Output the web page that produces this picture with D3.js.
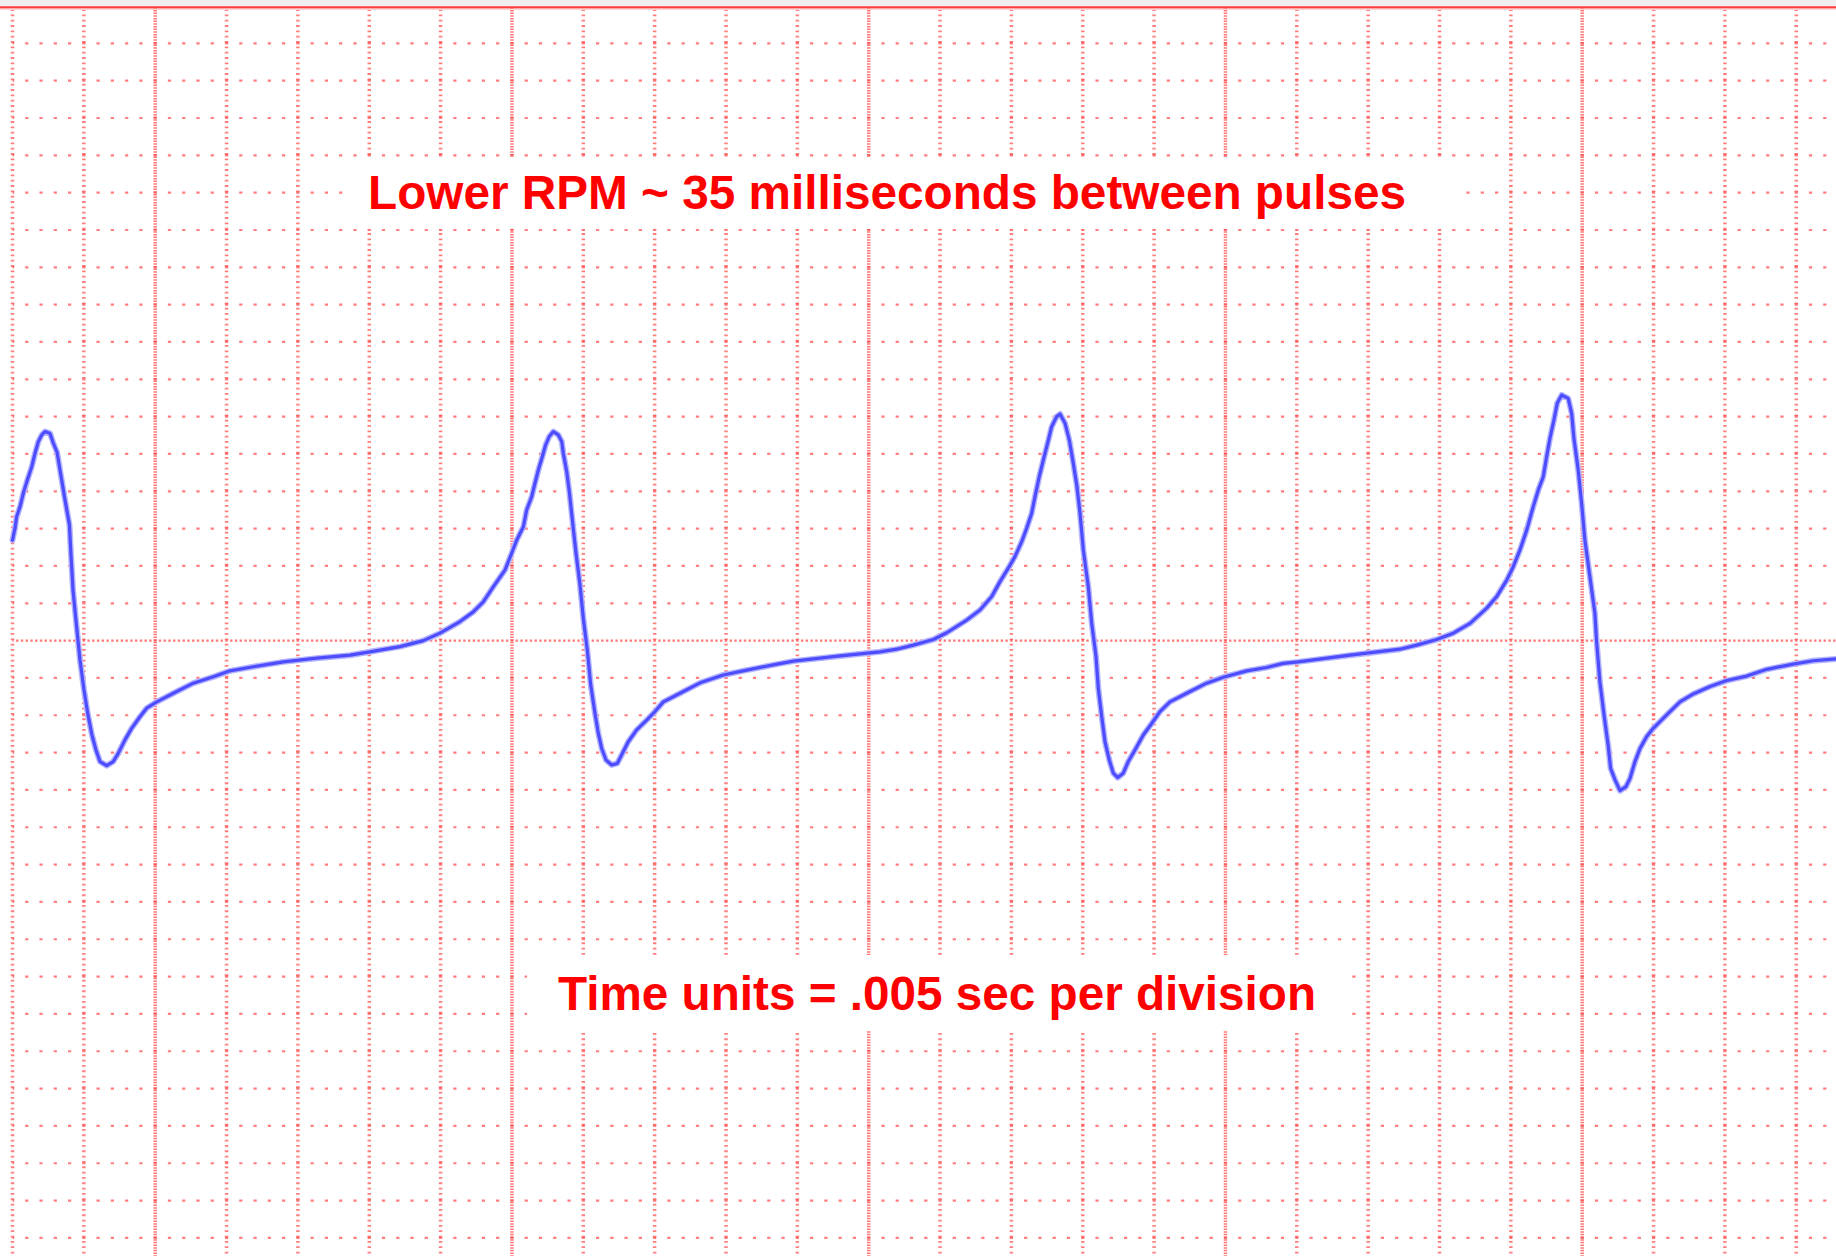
<!DOCTYPE html>
<html>
<head>
<meta charset="utf-8">
<script src="https://cdn.jsdelivr.net/npm/d3@7"></script>
<style>
  html, body { margin: 0; padding: 0; background: #fff; overflow: hidden; }
  svg { display: block; }
</style>
</head>
<body>
<script>
// scope trace, time in ms (5 ms per division), level in vertical divisions
const timeMs = [
  0, 0.18, 0.29, 0.53, 0.76, 1.04, 1.35, 1.58, 1.81, 2.05, 2.28, 2.63, 2.86, 3.12, 3.33, 3.68, 3.99,
  4.10, 4.24, 4.48, 4.73, 5.01, 5.29, 5.57, 5.85, 6.13, 6.60, 7.06, 7.41, 7.88, 8.35, 8.93, 9.40,
  10.11, 11.27, 12.67, 14.07, 15.24, 16.87, 18.98, 21.32, 23.65, 25.05, 27.16, 28.79, 29.96, 31.36, 32.29,
  32.99, 33.69, 34.51, 34.98, 35.33, 35.80, 36.03, 36.38, 36.61, 36.85, 37.13, 37.36, 37.60, 37.90, 38.25,
  38.49, 38.60, 38.84, 39.02, 39.26, 39.49, 39.77, 40.00, 40.28, 40.52, 40.82, 41.05, 41.29, 41.59, 41.99,
  42.38, 42.69, 43.15, 43.74, 44.44, 45.02, 45.61, 46.78, 48.18, 49.81, 51.45, 53.31, 54.72, 57.99, 60.79,
  61.96, 63.13, 64.53, 65.47, 66.87, 67.80, 68.62, 69.20, 69.78, 70.25, 70.72, 71.07, 71.42, 71.65, 71.95,
  72.24, 72.59, 72.82, 73.17, 73.41, 73.76, 74.06, 74.30, 74.58, 74.81, 75.04, 75.39, 75.63, 75.93, 76.09,
  76.33, 76.56, 76.86, 77.14, 77.45, 77.84, 78.19, 78.66, 79.24, 79.83, 80.41, 81.11, 82.28, 83.68, 84.85,
  86.49, 87.89, 89.05, 90.10, 93.73, 97.23, 98.40, 99.80, 100.97, 102.14, 103.31, 104.01, 104.71, 105.17,
  105.64, 106.11, 106.57, 106.92, 107.27, 107.51, 107.74, 108.02, 108.25, 108.56, 109.02, 109.26, 109.42,
  109.72, 109.96, 110.19, 110.54, 110.89, 111.01, 111.24, 111.53, 111.83, 111.99, 112.30, 112.65, 113.07,
  113.35, 113.70, 114.05, 114.52, 114.98, 115.92, 116.85, 117.78, 118.96, 120.13, 121.53, 122.93, 124.79,
  126.19, 127.78
];
const signal = [
  2.69, 3.02, 3.32, 3.59, 3.95, 4.30, 4.66, 5.02, 5.33, 5.51, 5.60, 5.55, 5.29, 5.05, 4.57, 3.77, 3.10,
  2.29, 1.36, 0.42, -0.52, -1.32, -1.99, -2.53, -2.93, -3.24, -3.35, -3.24, -3.02, -2.66, -2.35, -2.04, -1.81,
  -1.64, -1.41, -1.14, -0.97, -0.81, -0.70, -0.57, -0.47, -0.39, -0.30, -0.16, 0.00, 0.20, 0.51, 0.77,
  1.04, 1.44, 1.89, 2.34, 2.69, 3.05, 3.50, 3.85, 4.21, 4.57, 4.93, 5.24, 5.46, 5.60, 5.51,
  5.33, 5.02, 4.52, 3.99, 3.14, 2.34, 1.49, 0.60, -0.25, -1.19, -1.95, -2.48, -2.89, -3.20, -3.33,
  -3.29, -3.06, -2.71, -2.39, -2.13, -1.90, -1.64, -1.41, -1.13, -0.92, -0.79, -0.65, -0.55, -0.41, -0.30,
  -0.23, -0.12, 0.03, 0.21, 0.55, 0.82, 1.18, 1.58, 1.94, 2.25, 2.65, 3.01, 3.41, 3.85, 4.39,
  4.84, 5.37, 5.73, 6.00, 6.07, 5.82, 5.37, 4.84, 4.17, 3.41, 2.43, 1.44, 0.46, -0.43, -1.28,
  -2.04, -2.71, -3.20, -3.55, -3.67, -3.55, -3.24, -2.93, -2.53, -2.22, -1.90, -1.64, -1.41, -1.14, -0.98,
  -0.81, -0.72, -0.61, -0.57, -0.39, -0.23, -0.12, 0.03, 0.20, 0.46, 0.87, 1.18, 1.62, 1.98,
  2.43, 2.96, 3.59, 4.03, 4.39, 4.93, 5.42, 5.91, 6.36, 6.58, 6.49, 6.09, 5.42,
  4.57, 3.68, 2.69, 1.71, 0.73, -0.03, -1.10, -1.99, -2.84, -3.42, -3.73, -4.02, -3.91,
  -3.69, -3.24, -2.89, -2.57, -2.35, -1.99, -1.64, -1.43, -1.23, -1.07, -0.95, -0.77, -0.63,
  -0.54, -0.49
];

const timeGrid = d3.range(0, 126, 5);      // one line per division (ms)
const timeMajors = [10, 35, 60, 85, 110];
const levelGrid = d3.range(-16, 17, 1);    // vertical divisions
const levelMajors = [0];

const captions = [
  {text: "Lower RPM ~ 35 milliseconds between pulses", x: 368, y: 208.5, len: 1038, box: [343, 157, 1123, 72]},
  {text: "Time units = .005 sec per division",          x: 558, y: 1010,  len: 758,  box: [527, 955, 823, 76]}
];

const W = 1836, H = 1256;
const x = d3.scaleLinear().domain([0, 125]).range([12.5, 12.5 + 25 * 71.35]);
const y = d3.scaleLinear().domain([-16, 17]).range([6 + 33 * 37.33, 6]);

const svg = d3.select("body").append("svg").attr("width", W).attr("height", H);

// grey strip and frame line at the top
svg.append("rect").attr("x", 0).attr("y", 0).attr("width", W).attr("height", 6.5).attr("fill", "#efefef");

let grid = svg.append("g").attr("fill", "none");
let hStep = (x(5) - x(0)) / 5, vStep = (y(0) - y(1)) / 7;

grid.selectAll(".vmin").data(timeGrid.filter(t => !timeMajors.includes(t)))
  .join("line").attr("class", "vmin")
  .attr("x1", d => x(d)).attr("x2", d => x(d)).attr("y1", y(17) + 4).attr("y2", H)
  .attr("stroke", "#ff4040").attr("stroke-opacity", 0.68).attr("stroke-width", 3.5)
  .attr("stroke-dasharray", "1.8," + (vStep - 1.8))
  .attr("stroke-dashoffset", 0.9);

grid.selectAll(".vmaj").data(timeMajors)
  .join("line").attr("class", "vmaj")
  .attr("x1", d => x(d)).attr("x2", d => x(d)).attr("y1", y(17) + 2).attr("y2", H)
  .attr("stroke", "#ff4040").attr("stroke-opacity", 0.7).attr("stroke-width", 3.5)
  .attr("stroke-dasharray", "1.5," + (vStep / 2 - 1.5))
  .attr("stroke-dashoffset", 0.75);

grid.selectAll(".hmin").data(levelGrid.filter(v => !levelMajors.includes(v)))
  .join("line").attr("class", "hmin")
  .attr("x1", x(0)).attr("x2", W).attr("y1", d => y(d)).attr("y2", d => y(d))
  .attr("stroke", "#ff4040").attr("stroke-opacity", 0.68).attr("stroke-width", 2.2)
  .attr("stroke-dasharray", "3.2," + (hStep - 3.2))
  .attr("stroke-dashoffset", 1.6 - hStep);

grid.selectAll(".hmaj").data(levelMajors)
  .join("line").attr("class", "hmaj")
  .attr("x1", x(0)).attr("x2", W).attr("y1", d => y(d)).attr("y2", d => y(d))
  .attr("stroke", "#ff4040").attr("stroke-opacity", 0.7).attr("stroke-width", 2.2)
  .attr("stroke-dasharray", "2.4," + (hStep / 3 - 2.4))
  .attr("stroke-dashoffset", 1.2);

svg.append("line").attr("x1", 0).attr("x2", W).attr("y1", y(17) + 1.3).attr("y2", y(17) + 1.3)
  .attr("stroke", "#ff3b3b").attr("stroke-width", 2.2);
svg.append("line").attr("x1", 0).attr("x2", W).attr("y1", y(17) + 3.2).attr("y2", y(17) + 3.2)
  .attr("stroke", "#ffc4c4").attr("stroke-width", 1);

// white panels behind the captions
svg.selectAll(".panel").data(captions).join("rect").attr("class", "panel")
  .attr("x", d => d.box[0]).attr("y", d => d.box[1])
  .attr("width", d => d.box[2]).attr("height", d => d.box[3]).attr("fill", "#fff");

// trace
let pts = timeMs.map((t, i) => [t, signal[i]]);
let line = d3.line().x(d => x(d[0])).y(d => y(d[1])).curve(d3.curveLinear);
svg.append("path").datum(pts).attr("d", line)
  .attr("fill", "none").attr("stroke", "#b4b4ff").attr("stroke-width", 6)
  .attr("stroke-linejoin", "round").attr("stroke-linecap", "round");
svg.append("path").datum(pts).attr("d", line)
  .attr("fill", "none").attr("stroke", "#4d4dff").attr("stroke-width", 3.2)
  .attr("stroke-linejoin", "round").attr("stroke-linecap", "round");

svg.selectAll(".caption").data(captions).join("text").attr("class", "caption")
  .attr("x", d => d.x).attr("y", d => d.y)
  .attr("textLength", d => d.len).attr("lengthAdjust", "spacingAndGlyphs")
  .attr("font-family", "'Liberation Sans', Arial, sans-serif")
  .attr("font-weight", "bold").attr("font-size", 48).attr("fill", "#ff0000")
  .text(d => d.text);
</script>
</body>
</html>
